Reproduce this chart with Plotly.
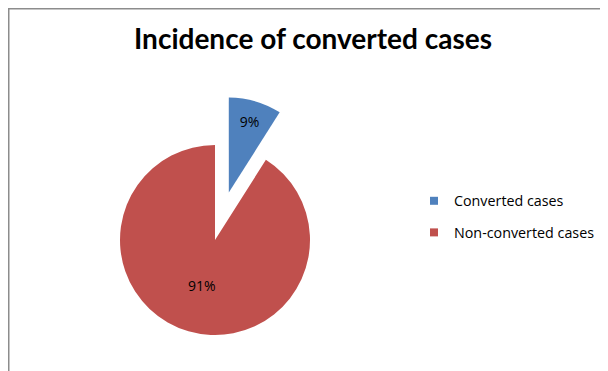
import math
import plotly.graph_objects as go

# ---- data ----
labels = ["Converted cases", "Non-converted cases"]
values = [9, 91]
colors = ["#4F81BD", "#C0504D"]
title_text = "Incidence of converted cases"
pulled_label = "Converted cases"
pull_fraction = 0.52

# ---- layout geometry (pixels, page coordinates; page body has 8px margin) ----
OFF = 8
W, H = 608 - OFF, 371 - OFF
CX, CY, R = 215 - OFF, 240 - OFF, 95
TRANSPARENT = "rgba(0,0,0,0)"


def domain_for(cx, cy, r):
    return dict(x=[(cx - r) / W, (cx + r) / W],
                y=[1 - (cy + r) / H, 1 - (cy - r) / H])


# pulled slice offset along its mid-angle, derived from the data
total = sum(values)
idx = labels.index(pulled_label)
start = sum(values[:idx]) / total * 360
mid = math.radians(start + values[idx] / total * 360 / 2)
pcx = CX + pull_fraction * R * math.sin(mid)
pcy = CY - pull_fraction * R * math.cos(mid)

fig = go.Figure()

common = dict(
    labels=labels, values=values, sort=False, direction="clockwise",
    rotation=0, showlegend=False, textposition="inside",
    insidetextorientation="horizontal",
    textfont=dict(family="Open Sans", size=14, color="#000000"),
    hoverinfo="label+percent", marker_line_width=0,
)

# main pie (all slices except the pulled one)
fig.add_trace(go.Pie(
    **common,
    domain=domain_for(CX, CY, R),
    marker=dict(colors=[TRANSPARENT if l == pulled_label else c
                        for l, c in zip(labels, colors)]),
    texttemplate=["" if l == pulled_label else "%{percent:.0%}" for l in labels],
))

# pulled (exploded) slice
fig.add_trace(go.Pie(
    **common,
    domain=domain_for(pcx, pcy, R),
    marker=dict(colors=[c if l == pulled_label else TRANSPARENT
                        for l, c in zip(labels, colors)]),
    texttemplate=["%{percent:.0%}" if l == pulled_label else "" for l in labels],
))

# legend entries
for i, (l, c) in enumerate(zip(labels, colors)):
    fig.add_trace(go.Scatter(
        x=[None], y=[None], mode="markers", name=l, legendgroup=f"g{i}",
        marker=dict(symbol="square", size=8, color=c, line=dict(width=0)),
        showlegend=True,
    ))

fig.update_layout(
    width=W, height=H, autosize=False,
    margin=dict(l=0, r=0, t=0, b=0),
    paper_bgcolor="white", plot_bgcolor="white",
    title=dict(text="<b>" + title_text + "</b>",
               font=dict(family="Lato", size=28, color="#000000"),
               x=(313 - OFF) / W, xanchor="center",
               y=1 - (39 - OFF) / H, yanchor="middle",
               xref="paper", yref="container"),
    xaxis=dict(visible=False), yaxis=dict(visible=False),
    legend=dict(x=(414 - OFF) / W, xanchor="left", y=1 - (185 - OFF) / H,
                yanchor="top",
                font=dict(family="Open Sans", size=14.3, color="#000000"),
                tracegroupgap=10, bgcolor="rgba(0,0,0,0)"),
    shapes=[dict(type="rect", xref="paper", yref="paper",
                 x0=0.75 / W, x1=1.05, y0=-0.05, y1=1 - 0.75 / H,
                 line=dict(color="#8C8C8C", width=1.5),
                 fillcolor="rgba(0,0,0,0)", layer="below")],
)

fig.write_html("out.html")
